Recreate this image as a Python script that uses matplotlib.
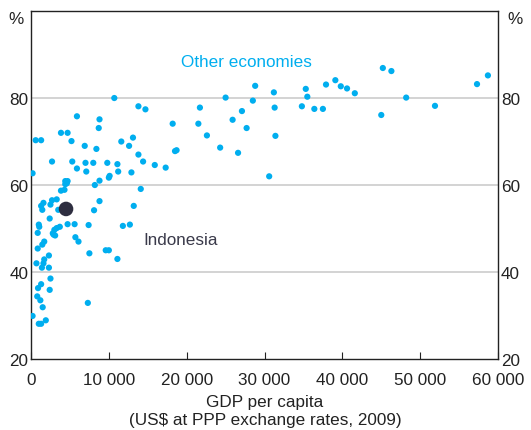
import matplotlib
matplotlib.use("Agg")
import matplotlib.pyplot as plt

plt.rcParams['font.family'] = ['Liberation Sans', 'DejaVu Sans']

# Other economies: GDP per capita (US$ PPP, 2009) and share (%)
other_gdp = [
    10700, 13800, 14700, 5900, 8800, 8700, 3850, 4700, 600, 1300,
    5200, 11600, 13100, 12600, 6900, 8400, 13800, 2700, 5300, 7000,
    8000, 9800, 11100, 14400, 15900, 17300, 5900, 7100, 11200, 12900,
    200, 10100, 10000, 8800, 8200, 4400, 4700, 4400, 4600, 3850,
    4300, 14100, 3300, 2700, 2500, 1600, 1300, 1450, 3500, 8800,
    8100, 13200, 2400, 1000, 4700, 5600, 7400, 12700, 11800, 3700,
    3300, 860, 2800, 3100, 5700, 6100, 1700, 1450, 860, 7500,
    9600, 10000, 11100, 2300, 1700, 1600, 700, 1400, 2300, 2500,
    1300, 900, 2400, 800, 1200, 1500, 7300, 200, 1000, 1300,
    1900, 1060, 3000, 2900,
    28800, 31200, 25000, 28500, 21700, 31300, 27100, 25900, 27700, 21500,
    18200, 22600, 31400, 24300, 18700, 18500, 26600, 30600,
    35300, 35500, 34800, 36400, 37500, 37900, 39100, 39800, 40600, 41600,
    45200, 46300, 45000, 48200, 51900, 57300, 58700,
]
other_share = [
    80.0, 78.1, 77.4, 75.8, 75.1, 73.1, 72.0, 72.0, 70.3, 70.3,
    70.1, 70.0, 70.9, 69.0, 69.0, 68.3, 67.0, 65.4, 65.4, 65.1,
    65.1, 65.1, 64.8, 65.4, 64.6, 64.0, 63.8, 63.1, 63.1, 62.9,
    62.7, 62.1, 61.7, 61.0, 60.0, 60.9, 60.9, 60.2, 60.4, 58.7,
    58.9, 59.1, 56.7, 56.5, 55.5, 55.9, 55.2, 54.3, 54.3, 56.3,
    54.2, 55.2, 52.3, 50.9, 51.0, 51.0, 50.8, 50.9, 50.6, 50.4,
    50.1, 49.0, 48.9, 48.4, 48.0, 47.0, 47.0, 46.3, 45.4, 44.3,
    45.0, 45.0, 43.0, 43.8, 42.9, 42.0, 42.0, 41.0, 41.0, 38.5,
    37.2, 36.3, 35.9, 34.4, 33.5, 31.9, 32.9, 29.9, 28.1, 28.1,
    28.9, 50.4, 49.7, 48.6,
    82.8, 81.3, 80.1, 79.4, 77.8, 77.8, 77.0, 75.0, 73.1, 74.1,
    74.1, 71.4, 71.3, 68.6, 68.0, 67.8, 67.4, 62.0,
    82.1, 80.3, 78.1, 77.5, 77.5, 83.1, 84.1, 82.7, 82.2, 81.1,
    86.9, 86.2, 76.1, 80.1, 78.2, 83.2, 85.2,
]

indonesia_gdp = [4500]
indonesia_share = [54.5]

x_ticks = [0, 10000, 20000, 30000, 40000, 50000, 60000]
x_labels = ["0", "10 000", "20 000", "30 000", "40 000", "50 000", "60 000"]
y_ticks = [20, 40, 60, 80]

blue = "#00aeef"
dark = "#2e2e40"
text_col = "#222222"
fs = 12.3

fig = plt.figure(figsize=(5.31, 4.31), dpi=100)
ax = fig.add_axes([0.0584, 0.1647, 0.8795, 0.8074])

ax.scatter(other_gdp, other_share, s=20, color=blue, edgecolors="none", zorder=3)
ax.scatter(indonesia_gdp, indonesia_share, s=110, color=dark, edgecolors="none", zorder=4)

ax.set_xlim(0, 60000)
ax.set_ylim(20, 100)

for y in [40, 60, 80]:
    ax.axhline(y, color="#cccccc", linewidth=1.2, zorder=1)

ax.set_xticks(x_ticks)
ax.set_xticklabels(x_labels)
ax.set_yticks(y_ticks)
ax.tick_params(axis="x", direction="in", length=5, width=0.8, colors=text_col,
               labelsize=fs, pad=9)
ax.tick_params(axis="y", length=0, labelsize=fs, colors=text_col,
               labelleft=True, labelright=True, pad=2)
for s in ax.spines.values():
    s.set_color("#222222")
    s.set_linewidth(1.0)

ax.text(27700, 88.3, "Other economies", color=blue, fontsize=fs,
        ha="center", va="center")
ax.text(14400, 47.4, "Indonesia", color="#3a3a4a", fontsize=fs,
        ha="left", va="center")

fig.text(16 / 531, 1 - 20 / 431, "%", fontsize=fs, color=text_col,
         ha="center", va="center")
fig.text(515 / 531, 1 - 20 / 431, "%", fontsize=fs, color=text_col,
         ha="center", va="center")

fig.text(265 / 531, 1 - 403 / 431, "GDP per capita", fontsize=fs,
         color=text_col, ha="center", va="center")
fig.text(265 / 531, 1 - 421 / 431, "(US$ at PPP exchange rates, 2009)",
         fontsize=fs, color=text_col, ha="center", va="center")

fig.savefig("out.png", dpi=100)
